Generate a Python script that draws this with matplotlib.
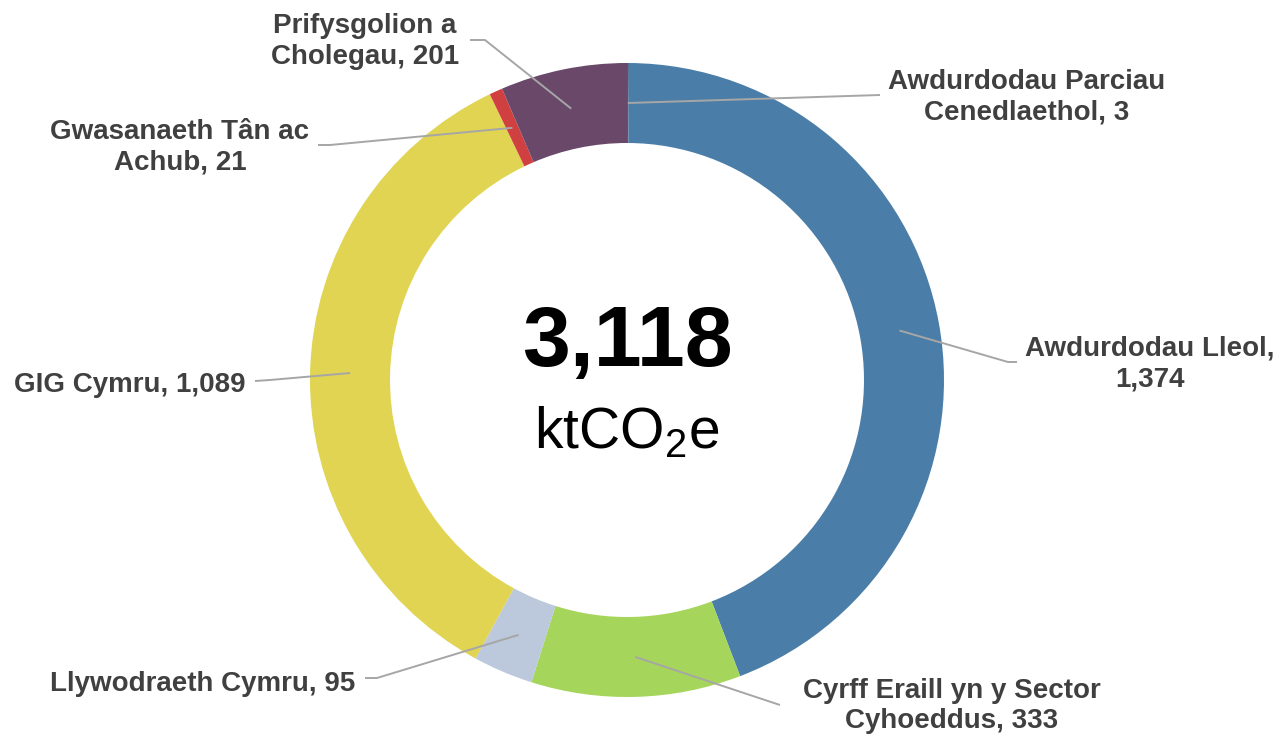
import numpy as np
import matplotlib as mpl
mpl.use('Agg')
import matplotlib.pyplot as plt

plt.rcParams['font.family'] = ['Liberation Sans', 'DejaVu Sans']
plt.rcParams['mathtext.fontset'] = 'custom'
plt.rcParams['mathtext.rm'] = 'Liberation Sans'
plt.rcParams['mathtext.it'] = 'Liberation Sans'

# data (clockwise from 12 o'clock)
sectors = ['Awdurdodau Parciau\nCenedlaethol', 'Awdurdodau Lleol', 'Cyrff Eraill yn y Sector\nCyhoeddus',
           'Llywodraeth Cymru', 'GIG Cymru', 'Gwasanaeth Tân ac\nAchub', 'Prifysgolion a\nCholegau']
values = [3, 1374, 333, 95, 1089, 21, 201]
colors = ['#3E5F80', '#4A7EA8', '#A5D65B', '#BCC8DB', '#E0D452', '#D04040', '#69486A']
total_label = '3,118'
unit_label = 'ktCO$_2$e'

# layout in pixel space (y measured from top)
W, H = 1281, 735
cx, cy = 627, 380
r_out, r_in = 317, 237
# label anchor (x, y, ha), leader line elbow and end
label_pos = [(1027, 97, 'center'), (1150, 364, 'center'), (952, 706, 'center'),
             (355, 684, 'right'), (245, 385, 'right'), (180, 147, 'center'), (365, 41, 'center')]
elbows = [(880, 95), (1008, 362), (780, 705), (377, 678), (270, 380), (330, 145), (485, 40)]
ends = [(880, 95), (1017, 362), (780, 705), (365, 678), (255, 381), (318, 145), (470, 40)]


def fmt(v):
    return '{:,}'.format(v)


def label_text(name, v):
    # 'Awdurdodau Lleol' wraps after the comma
    if '\n' in name:
        return name + ', ' + fmt(v)
    if name == 'Awdurdodau Lleol':
        return name + ',\n' + fmt(v)
    return name + ', ' + fmt(v)


fig = plt.figure(figsize=(W / 100, H / 100), dpi=100)
ax = fig.add_axes([0, 0, 1, 1])

wedges, _ = ax.pie(values, colors=colors, startangle=90, counterclock=False,
                   center=(cx, H - cy), radius=r_out,
                   wedgeprops=dict(width=r_out - r_in, linewidth=0))
ax.set_xlim(0, W)
ax.set_ylim(0, H)
ax.set_aspect('equal')
ax.axis('off')

r_mid = (r_out + r_in) / 2
for w, name, v, lp, el, en in zip(wedges, sectors, values, label_pos, elbows, ends):
    ang = np.deg2rad((w.theta1 + w.theta2) / 2)
    sx = cx + r_mid * np.cos(ang)
    sy = (H - cy) + r_mid * np.sin(ang)
    ax.plot([sx, el[0], en[0]], [sy, H - el[1], H - en[1]], color='#A6A6A6', lw=1.4,
            solid_capstyle='butt')
    ax.text(lp[0], H - lp[1], label_text(name, v), ha=lp[2], va='center', fontsize=20,
            fontweight='bold', color='#404040', linespacing=1.25, multialignment='center')

ax.text(cx, H - 344, total_label, ha='center', va='center', fontsize=62, fontweight='bold', color='black')
ax.text(cx, H - 432, unit_label, ha='center', va='center', fontsize=41, color='black')

plt.savefig('out.png', dpi=100)
